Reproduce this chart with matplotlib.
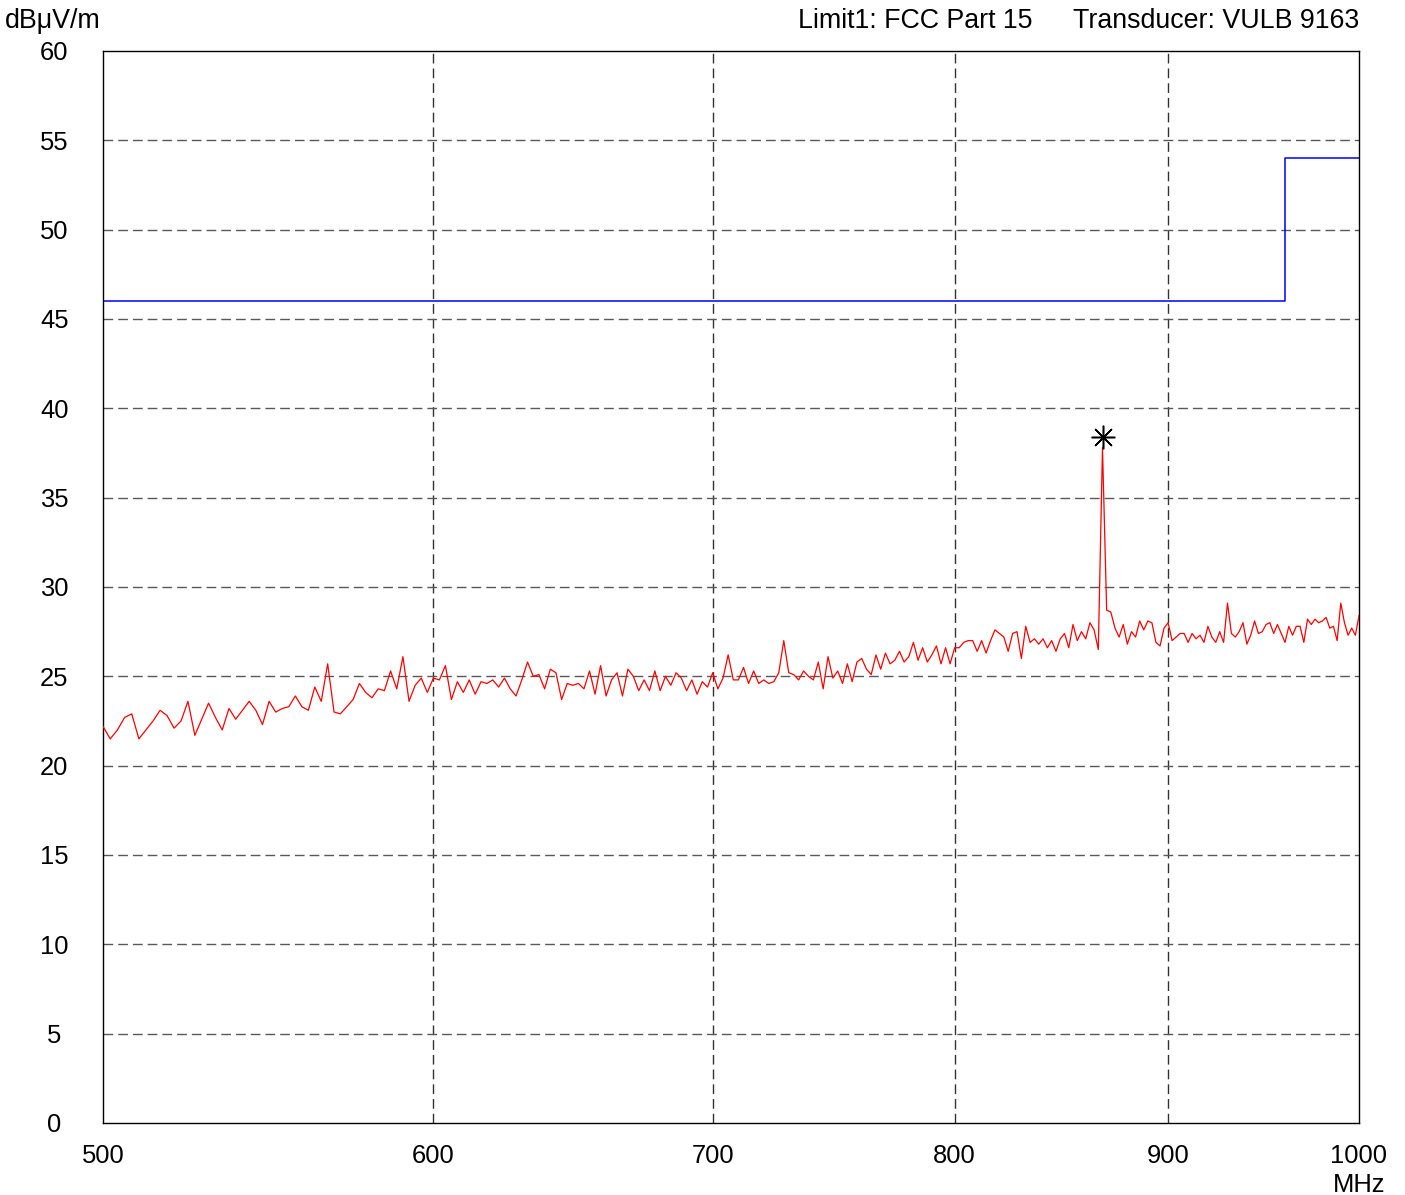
import numpy as np
import matplotlib
matplotlib.use("Agg")
import matplotlib.pyplot as plt
from matplotlib.ticker import NullLocator

plt.rcParams['font.family'] = ['Liberation Sans', 'DejaVu Sans']

# sweep: 500..1000 MHz, 2 MHz steps
freq = np.arange(500, 1001, 2)
level = [
    22.2, 21.5, 22.0, 22.7, 22.9, 21.5, 22.0, 22.5, 23.1, 22.8,   # 500
    22.1, 22.5, 23.6, 21.7, 22.6, 23.5, 22.7, 22.0, 23.2, 22.6,   # 520
    23.1, 23.6, 23.1, 22.3, 23.6, 23.0, 23.2, 23.3, 23.9, 23.3,   # 540
    23.1, 24.4, 23.6, 25.7, 23.0, 22.9, 23.3, 23.7, 24.6, 24.1,   # 560
    23.8, 24.3, 24.2, 25.3, 24.3, 26.1, 23.6, 24.5, 24.9, 24.1,   # 580
    24.9, 24.8, 25.6, 23.7, 24.7, 24.1, 24.8, 24.0, 24.7, 24.6,   # 600
    24.8, 24.4, 24.9, 24.3, 23.9, 24.8, 25.8, 25.0, 25.1, 24.3,   # 620
    25.4, 25.2, 23.7, 24.6, 24.5, 24.6, 24.3, 25.3, 24.0, 25.6,   # 640
    23.9, 24.8, 25.2, 23.9, 25.4, 25.0, 24.2, 24.8, 24.2, 25.3,   # 660
    24.2, 25.0, 24.5, 25.2, 24.9, 24.2, 24.8, 24.0, 24.7, 24.4,   # 680
    25.2, 24.3, 24.9, 26.2, 24.8, 24.8, 25.5, 24.6, 25.3, 24.6,   # 700
    24.8, 24.6, 24.7, 25.2, 27.0, 25.2, 25.1, 24.8, 25.3, 25.0,   # 720
    24.8, 25.8, 24.3, 26.1, 24.9, 25.3, 24.6, 25.7, 24.7, 25.8,   # 740
    26.0, 25.4, 25.1, 26.2, 25.4, 26.3, 25.7, 25.9, 26.4, 25.8,   # 760
    26.1, 26.9, 25.9, 26.6, 25.8, 26.2, 26.7, 25.7, 26.6, 25.7,   # 780
    26.6, 26.6, 26.9, 27.0, 27.0, 26.4, 27.0, 26.3, 27.0, 27.6,   # 800
    27.4, 27.2, 26.4, 27.4, 27.5, 26.0, 27.8, 26.9, 27.1, 26.8,   # 820
    27.1, 26.6, 27.0, 26.4, 27.1, 27.4, 26.6, 27.9, 27.0, 27.5,   # 840
    27.1, 28.0, 27.6, 26.5, 37.8, 28.7, 28.6, 27.7, 27.2, 27.9,   # 860
    26.8, 27.5, 27.2, 28.1, 27.6, 28.1, 28.0, 26.9, 26.7, 27.7,   # 880
    28.0, 27.0, 27.2, 27.4, 27.4, 26.9, 27.4, 27.1, 27.3, 26.9,   # 900
    27.8, 27.2, 26.9, 27.5, 26.9, 29.1, 27.4, 27.2, 27.5, 28.0,   # 920
    26.8, 27.3, 28.1, 27.4, 27.5, 27.9, 28.0, 27.4, 27.9, 27.4,   # 940
    26.9, 27.8, 27.3, 27.8, 27.8, 26.9, 28.2, 27.9, 28.2, 28.0,   # 960
    28.1, 28.3, 27.7, 27.8, 27.0, 29.1, 28.0, 27.3, 27.7, 27.3,   # 980
    28.4,                                                         # 1000
]

# FCC Part 15 limit line
limit_freq = [500, 960, 960, 1000]
limit_level = [46, 46, 54, 54]

# peak marker
peak_freq = [868.4]
peak_level = [38.4]

xticks = [500, 600, 700, 800, 900, 1000]
yticks = list(range(0, 61, 5))

fig = plt.figure(figsize=(14.05, 11.95), dpi=100)
ax = fig.add_axes([103/1405, 1 - 1123/1195, 1256/1405, 1072/1195])

ax.set_xscale('log')
ax.set_xlim(500, 1000)
ax.set_ylim(0, 60)

for x in xticks[1:-1]:
    ax.axvline(x, color='0.2', lw=1, dashes=(7, 3.6), zorder=1)
for y in yticks[1:-1]:
    ax.axhline(y, color='0.35', lw=1, dashes=(7, 3.6), zorder=1)

ax.plot(limit_freq, limit_level, color='#0000ff', lw=1.1, zorder=2)
ax.plot(freq, level, color='#ff0000', lw=0.9, zorder=3)
ax.plot(peak_freq, peak_level, linestyle='none', marker=(8, 2, 0),
        markersize=17, markeredgecolor='black', markeredgewidth=1.1, zorder=4)

ax.set_xticks(xticks)
ax.set_xticklabels([str(t) for t in xticks])
ax.xaxis.set_minor_locator(NullLocator())
ax.set_yticks(yticks)
ax.set_yticklabels([str(t) for t in yticks])
ax.tick_params(axis='both', length=0, labelsize=18.4)
ax.tick_params(axis='x', pad=15)
ax.tick_params(axis='y', pad=35)
for lab in ax.get_yticklabels():
    lab.set_horizontalalignment('center')

for s in ax.spines.values():
    s.set_linewidth(1)
    s.set_color('black')

fig.text(5/1405, 1 - 21/1195, 'dBμV/m', fontsize=19.3, va='center', ha='left')
fig.text(1033/1405, 1 - 21/1195, 'Limit1: FCC Part 15', fontsize=19.3, va='center', ha='right')
fig.text(1359/1405, 1 - 21/1195, 'Transducer: VULB 9163', fontsize=19.3, va='center', ha='right')
fig.text(1359/1405, 1 - 1185/1195, 'MHz', fontsize=18.4, va='center', ha='center')

fig.savefig('out.png', dpi=100)
